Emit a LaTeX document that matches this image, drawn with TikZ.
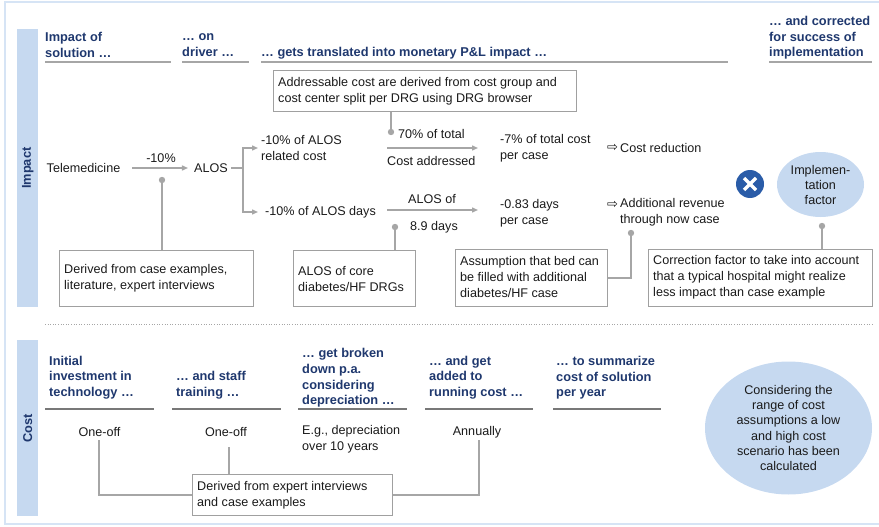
\documentclass[tikz,border=0pt]{standalone}
\usepackage{fontspec}
\setmainfont{Liberation Sans}
\newfontfamily\symfont{DejaVu Sans}
\usetikzlibrary{arrows.meta,shapes.geometric}
\definecolor{hdrblue}{RGB}{31,56,110}
\definecolor{bandblue}{RGB}{198,217,240}
\definecolor{frameblue}{RGB}{214,228,245}
\definecolor{linegrey}{RGB}{166,166,166}
\definecolor{boxgrey}{RGB}{160,160,160}
\definecolor{ulgrey}{RGB}{120,120,120}
\definecolor{crossblue}{RGB}{42,92,168}
\definecolor{txt}{RGB}{26,26,26}
\begin{document}
\begin{tikzpicture}[x=1pt,y=-1pt,
  every node/.style={inner sep=0pt, text=txt, font=\fontsize{12.6}{16}\selectfont},
  hdr/.style={font=\bfseries\fontsize{12.8}{15.7}\selectfont, text=hdrblue, align=left, anchor=west},
  txtl/.style={align=left, anchor=west},
  notebox/.style={draw=boxgrey, line width=1.2pt, anchor=north west},
  notetext/.style={align=left, anchor=west, xshift=5pt},
  conn/.style={draw=linegrey, line width=1.4pt},
  arr/.style={conn, -{Triangle[length=6pt,width=5pt]}},
  ulthin/.style={draw=linegrey, line width=1.1pt},
  ulthick/.style={draw=ulgrey, line width=2pt},
  dotc/.style={fill=linegrey},
  band/.style={fill=bandblue, anchor=north west, minimum width=21pt},
  bandlabel/.style={rotate=90, font=\bfseries\fontsize{12.8}{14}\selectfont, text=hdrblue},
  bubble/.style={ellipse, fill=bandblue, align=center},
  resultarrow/.style={anchor=west, font=\symfont\fontsize{13}{14}\selectfont}
]
\useasboundingbox (0,0) rectangle (879,527);

% outer frame
\draw[frameblue, line width=1.5pt] (879,2) -- (5,2) -- (5,524) -- (879,524);

% side bands
\node[band, minimum height=278pt] (bandimp) at (17,29) {};
\node[bandlabel] at (bandimp.center) {Impact};
\node[band, minimum height=176pt] (bandcost) at (17,340) {};
\node[bandlabel] at (bandcost.center) {Cost};

% ---------- Impact: column headers ----------
\node[hdr] (h1) at (45,45) {Impact of\\solution …};
\node[hdr] (h2) at (182,45) {… on\\driver …};
\node[hdr] (h3) at (261,53) {… gets translated into monetary P\&L impact …};
\node[hdr] (h4) at (769,37.7) {… and corrected\\for success of\\implementation};
\draw[ulthin] (45,62) -- (171,62);
\draw[ulthin] (182,62) -- (249,62);
\draw[ulthin] (261,62) -- (728,62);
\draw[ulthin] (769,62) -- (872,62);

% ---------- Impact: driver tree ----------
\node[notebox, minimum width=303pt, minimum height=41pt] (topbox) at (273,70) {};
\node[notetext] at (topbox.west)
  {Addressable cost are derived from cost group and\\cost center split per DRG using DRG browser};

\node[anchor=center] (tele) at (83.5,168) {Telemedicine};
\node[anchor=center] (alos) at (211,168) {ALOS};
\draw[arr, shorten <=12pt, shorten >=6pt] (tele.east) -- (alos.west);
\node (pct) at (161,158) {-10\%};
\coordinate (d1) at (162,180);
\fill[dotc] (d1) circle (3.2pt);

\node[txtl] (relcost) at (261,148) {-10\% of ALOS\\related cost};
\node[txtl] (alosdays) at (265,212) {-10\% of ALOS days};
\coordinate (br) at (243,168);
\draw[conn, shorten <=3pt] (alos.east) -- (br);
\draw[arr, shorten >=3pt] (br) |- (relcost.west);
\draw[arr, shorten >=7pt] (br) |- (alosdays.west);

% cost addressed
\coordinate (a1s) at (387,148);
\coordinate (a1e) at (478,148);
\draw[arr] (a1s) -- (a1e);
\node[txtl] (pct70) at (398,134) {70\% of total};
\node[txtl] (costaddr) at (387,161) {Cost addressed};
\coordinate (d2) at (391,132);
\fill[dotc] (d2) circle (3.2pt);
\draw[conn] (d2) -- (d2 |- topbox.south);

% ALOS of 8.9 days
\coordinate (a2s) at (387,210);
\coordinate (a2e) at (478,210);
\draw[arr] (a2s) -- (a2e);
\node (alosof) at (432,199) {ALOS of};
\node[txtl] (days89) at (410,227) {8.9 days};
\coordinate (d3) at (395,227);
\fill[dotc] (d3) circle (3.2pt);

\node[txtl] (cost7) at (500,148.5) {-7\% of total cost\\per case};
\node[txtl] (days083) at (500,213.5) {-0.83 days\\per case};

\node[resultarrow] (arrow1) at (607,148) {⇨};
\node[txtl] (costred) at (620,148) {Cost reduction};
\node[resultarrow] (arrow2) at (607,205) {⇨};
\node[txtl] (addrev) at (620,212.5) {Additional revenue\\through now case};
\coordinate (d4) at (631,233);
\fill[dotc] (d4) circle (3.2pt);

% correction
\node[circle, fill=crossblue, minimum size=28pt] (cross) at (750,184) {};
\draw[white, line width=3.2pt] ([shift={(-6,-6)}]cross.center) -- ([shift={(6,6)}]cross.center);
\draw[white, line width=3.2pt] ([shift={(-6,6)}]cross.center) -- ([shift={(6,-6)}]cross.center);
\node[bubble, minimum width=87pt, minimum height=65pt, font=\fontsize{12.6}{15}\selectfont] (implf) at (820.5,184.5)
  {Implemen-\\tation\\factor};
\coordinate (d5) at (822,226);
\fill[dotc] (d5) circle (3.2pt);

% notes
\node[notebox, minimum width=194pt, minimum height=56pt] (box1) at (59,250) {};
\node[notetext] at (box1.west) {Derived from case examples,\\literature, expert interviews};
\node[notebox, minimum width=122pt, minimum height=56pt] (alosbox) at (293,250) {};
\node[notetext] at (alosbox.west) {ALOS of core\\diabetes/HF DRGs};
\node[notebox, minimum width=152pt, minimum height=57pt] (assump) at (455,249) {};
\node[notetext] at ([yshift=1pt]assump.west) {Assumption that bed can\\be filled with additional\\diabetes/HF case};
\node[notebox, minimum width=224pt, minimum height=57pt] (corrbox) at (648,249) {};
\node[notetext] at ([yshift=1pt]corrbox.west) {Correction factor to take into account\\that a typical hospital might realize\\less impact than case example};

\draw[conn] (d1) -- (d1 |- box1.north);
\draw[conn] (d3) -- (d3 |- alosbox.north);
\draw[conn] (d4) |- (assump.east);
\draw[conn] (d5) -- (d5 |- corrbox.north);

% separator
\draw[linegrey, line width=1pt, dash pattern=on 1pt off 1.6pt] (45,324) -- (872,324);

% ---------- Cost ----------
\node[hdr] (c1) at (49,377.7) {Initial\\investment in\\technology …};
\node[hdr] (c2) at (176,385.5) {… and staff\\training …};
\node[hdr] (c3) at (302,378) {… get broken\\down p.a.\\considering\\depreciation …};
\node[hdr] (c4) at (429,377.7) {… and get\\added to\\running cost …};
\node[hdr] (c5) at (556,377.7) {… to summarize\\cost of solution\\per year};
\draw[ulthick] (45,409) -- (154,409);
\draw[ulthick] (172,409) -- (281,409);
\draw[ulthick] (298,409) -- (407,409);
\draw[ulthick] (425,409) -- (533,409);
\draw[ulthick] (553,409) -- (661,409);

\node (oneoff1) at (99.5,432) {One-off};
\node (oneoff2) at (226,432) {One-off};
\node[txtl] (deprec) at (302,439.5) {E.g., depreciation\\over 10 years};
\node (annually) at (477,432) {Annually};

\node[notebox, minimum width=200pt, minimum height=41pt] (costbox) at (192,474) {};
\node[notetext] at (costbox.west) {Derived from expert interviews\\and case examples};
\coordinate (e1) at (99,440);
\coordinate (e2) at (229,447);
\coordinate (e3) at (479,440);
\draw[conn] (e1) |- (costbox.west);
\draw[conn] (e2) -- (e2 |- costbox.north);
\draw[conn] (e3) |- (costbox.east);

\node[bubble, minimum width=167pt, minimum height=133pt, font=\fontsize{12.6}{15.3}\selectfont] (range) at (788.5,428)
  {Considering the\\range of cost\\assumptions a low\\and high cost\\scenario has been\\calculated};
\end{tikzpicture}
\end{document}
